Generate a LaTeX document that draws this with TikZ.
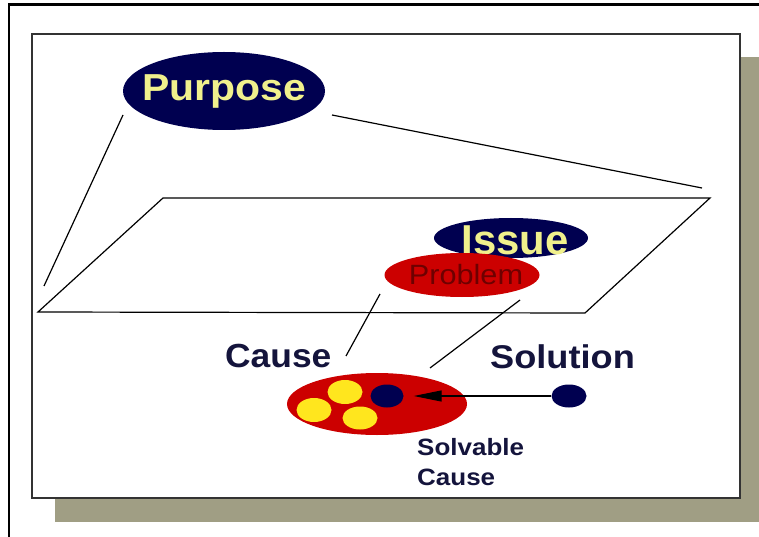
\documentclass[tikz,border=0pt]{standalone}
\usepackage{fontspec}
\setmainfont{Liberation Sans}
\usetikzlibrary{shapes.geometric,arrows.meta}

\definecolor{navy}{RGB}{0,0,80}
\definecolor{causered}{RGB}{204,0,0}
\definecolor{probtext}{RGB}{110,0,0}
\definecolor{inktext}{RGB}{20,20,60}
\definecolor{dotyellow}{RGB}{255,230,30}
\definecolor{paleyellow}{RGB}{240,240,140}
\definecolor{shadowgray}{RGB}{160,158,132}

\tikzset{
  blob/.style={ellipse, inner sep=0pt, draw=none},
  word/.style={inner sep=0pt, font=\bfseries},
  thin line/.style={line width=1.2bp, black},
  small word/.style={word, text=inktext, anchor=base west,
                     font=\bfseries\fontsize{23.7}{30}\selectfont},
}

\begin{document}
\begin{tikzpicture}[x=1bp, y=-1bp]
  \useasboundingbox (0,0) rectangle (759,537);

  % outer frame (only top and left edges fall inside the page)
  \draw[line width=2.5bp] (770,4.5) -- (9,4.5) -- (9,545);

  % slide with drop shadow
  \fill[shadowgray] (55,57) rectangle (770,522);
  \draw[fill=white, line width=1.5bp, draw=black!80] (32,34) rectangle (740,498);

  % the plane
  \coordinate (p1) at (38,312);
  \coordinate (p2) at (163,198);
  \coordinate (p3) at (710,198);
  \coordinate (p4) at (585,313);
  \draw[thin line] (p1) -- (p2) -- (p3) -- (p4) -- cycle;

  % Purpose and its projection lines
  \node[blob, fill=navy, minimum width=202bp, minimum height=78bp] (purpose) at (224,91) {};
  \node[word, text=paleyellow, font=\bfseries\fontsize{37.7}{40}\selectfont] (purposetxt) at (224.5,91.5) {\scalebox{1.09}[1]{Purpose}};
  \coordinate (pl) at (123,115);
  \coordinate (pr) at (332,115);
  \coordinate (plend) at (44,286);
  \coordinate (prend) at (702,188);
  \draw[thin line] (pl) -- (plend);
  \draw[thin line] (pr) -- (prend);

  % Issue and Problem on the plane
  \node[blob, fill=navy, minimum width=154bp, minimum height=40bp] (issue) at (511,238) {};
  \node[word, text=paleyellow, font=\bfseries\fontsize{42}{44}\selectfont] (issuetxt) at (515,240) {Issue};
  \node[blob, fill=causered, minimum width=155bp, minimum height=44bp] (problem) at (462,275) {};
  \node[inner sep=0pt, text=probtext, font=\fontsize{28}{30}\selectfont] (problemtxt) at (466,275) {\scalebox{1.1}[1]{Problem}};

  % lines down to the cause
  \coordinate (ql) at (380,294);
  \coordinate (qlend) at (346,356);
  \coordinate (qr) at (520,300);
  \coordinate (qrend) at (430,368);
  \draw[thin line] (ql) -- (qlend);
  \draw[thin line] (qr) -- (qrend);

  % labels
  \node[word, text=inktext, anchor=base west, font=\bfseries\fontsize{33.5}{36}\selectfont] (causelbl) at (225,367) {\scalebox{1.06}[1]{Cause}};
  \node[word, text=inktext, anchor=base west, font=\bfseries\fontsize{33}{36}\selectfont] (sollbl) at (490,368) {\scalebox{1.1}[1]{Solution}};

  % the cause with its parts
  \node[blob, fill=causered, minimum width=180bp, minimum height=62bp] (cause) at (377,404) {};
  \node[blob, fill=dotyellow, minimum width=35bp, minimum height=24bp] (y1) at (345,392) {};
  \node[blob, fill=dotyellow, minimum width=35bp, minimum height=24bp] (y2) at (314,410) {};
  \node[blob, fill=dotyellow, minimum width=35bp, minimum height=23bp] (y3) at (360,418) {};
  \node[blob, fill=navy, minimum width=33bp, minimum height=23bp] (causedot) at (387,396) {};

  % the solution and its arrow
  \node[blob, fill=navy, minimum width=35bp, minimum height=23bp] (soldot) at (569,396) {};
  \draw[line width=1.3bp, -{Triangle[length=28bp, width=11bp]}, shorten >=10bp]
    (soldot.west) -- (causedot.east);

  \node[small word] (solvable) at (417,455) {\scalebox{1.1}[1]{Solvable}};
  \node[small word] (solvcause) at (417,485) {\scalebox{1.1}[1]{Cause}};
\end{tikzpicture}
\end{document}
